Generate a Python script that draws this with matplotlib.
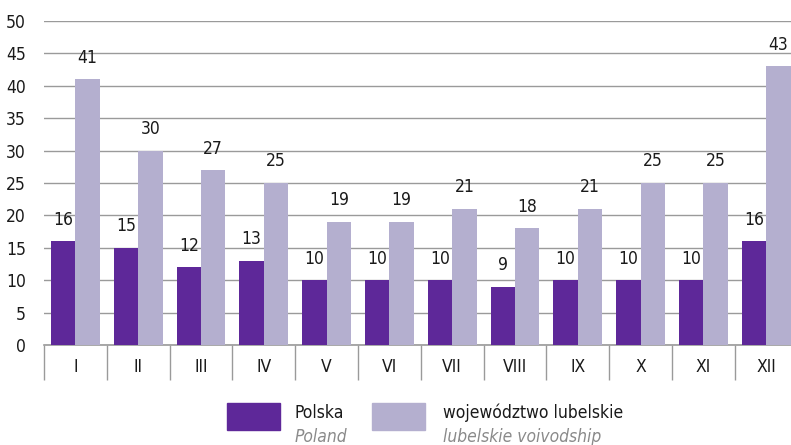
import matplotlib
matplotlib.use("Agg")
import matplotlib.pyplot as plt
from matplotlib.patches import Rectangle
import numpy as np

plt.rcParams['font.family'] = ['DejaVu Sans']
plt.rcParams['font.stretch'] = 'condensed'

categories = ["I", "II", "III", "IV", "V", "VI", "VII", "VIII", "IX", "X", "XI", "XII"]
polska = [16, 15, 12, 13, 10, 10, 10, 9, 10, 10, 10, 16]
lubelskie = [41, 30, 27, 25, 19, 19, 21, 18, 21, 25, 25, 43]
yticks = [0, 5, 10, 15, 20, 25, 30, 35, 40, 45, 50]

c_dark = "#5E2899"
c_light = "#B4AFCF"
grid_c = "#9A9A9A"
fs = 12.5

W, H = 791, 445
fig = plt.figure(figsize=(W / 100, H / 100), dpi=100)
left, right, bottom, top = 44, 797.6, 345, 21
ax = fig.add_axes([left / W, 1 - bottom / H, (right - left) / W, (bottom - top) / H])

x = np.arange(len(categories))
bw = 0.39
ax.bar(x - bw / 2, polska, width=bw, color=c_dark, zorder=3)
ax.bar(x + bw / 2, lubelskie, width=bw, color=c_light, zorder=3)

for xi, v in zip(x, polska):
    ax.annotate(str(v), (xi - bw / 2, v), xytext=(0, 9), textcoords="offset points",
                ha="center", va="bottom", fontsize=fs, color="#1a1a1a")
for xi, v in zip(x, lubelskie):
    ax.annotate(str(v), (xi + bw / 2, v), xytext=(0, 9), textcoords="offset points",
                ha="center", va="bottom", fontsize=fs, color="#1a1a1a")

ax.set_xlim(-0.5, len(categories) - 0.5)
ax.set_ylim(0, 50)
ax.set_yticks(yticks)
ax.set_yticklabels([str(t) for t in yticks], fontsize=fs, color="#1a1a1a")
ax.yaxis.grid(True, color=grid_c, linewidth=1.0, zorder=0)
ax.tick_params(axis="y", length=0, pad=13)

ax.set_xticks(x)
ax.set_xticklabels(categories, fontsize=fs, color="#1a1a1a")
ax.set_xticks(np.arange(-0.5, len(categories)), minor=True)
ax.tick_params(axis="x", which="major", length=0, pad=9)
ax.tick_params(axis="x", which="minor", length=25, width=1.0, color=grid_c)

for s in ["left", "right", "top"]:
    ax.spines[s].set_visible(False)
ax.spines["bottom"].set_color(grid_c)
ax.spines["bottom"].set_linewidth(1.2)

# legend
def swatch(x0, color):
    fig.patches.append(Rectangle((x0 / W, 1 - 430 / H), 53 / W, 27 / H,
                                 transform=fig.transFigure, color=color, figure=fig))

swatch(227, c_dark)
swatch(372, c_light)
fig.text(295 / W, 1 - 413 / H, "Polska", fontsize=fs, va="center", ha="left", color="#1a1a1a")
fig.text(295 / W, 1 - 437 / H, "Poland", fontsize=fs, va="center", ha="left",
         color="#8a8a8a", style="italic")
fig.text(443 / W, 1 - 413 / H, "województwo lubelskie", fontsize=fs, va="center", ha="left",
         color="#1a1a1a")
fig.text(443 / W, 1 - 437 / H, "lubelskie voivodship", fontsize=fs, va="center", ha="left",
         color="#8a8a8a", style="italic")

fig.savefig("out.png", dpi=100)
